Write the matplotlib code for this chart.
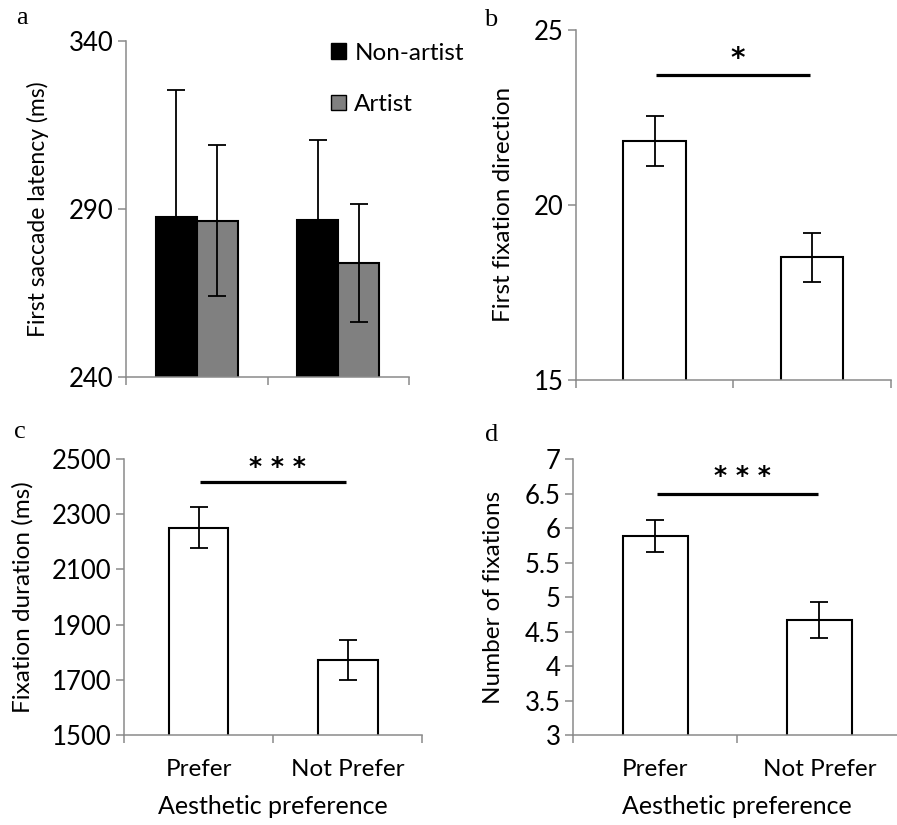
import matplotlib
matplotlib.use("Agg")
import matplotlib.pyplot as plt
from matplotlib.patches import Patch
import numpy as np

plt.rcParams['font.family'] = ['Lato', 'DejaVu Sans']

W, H = 897, 825

# panel a: first saccade latency by group
groups = ['Non-artist', 'Artist']
latency_mean = {'Non-artist': [287.7, 286.6], 'Artist': [286.5, 273.9]}
latency_err = {'Non-artist': [37.6, 23.8], 'Artist': [22.5, 17.5]}

# panels b-d: prefer vs not prefer
categories = ['Prefer', 'Not Prefer']
direction_mean = [21.82, 18.50]
direction_err = [0.72, 0.70]
duration_mean = [2251, 1772]
duration_err = [75, 72]
count_mean = [5.89, 4.67]
count_err = [0.235, 0.26]

SPINE = '#8a8a8a'
TICK_FS = 18.5
CAT_FS = 17.5
LABEL_FS = 17.5


def make_axes(left, top, right, bottom):
    ax = fig.add_axes([left / W, 1 - bottom / H, (right - left) / W, (bottom - top) / H])
    for s in ['top', 'right']:
        ax.spines[s].set_visible(False)
    for s in ['left', 'bottom']:
        ax.spines[s].set_color(SPINE)
        ax.spines[s].set_linewidth(1.1)
    ax.set_xlim(0, 2)
    ax.set_xticks([0, 1, 2])
    ax.set_xticklabels([])
    ax.tick_params(axis='both', which='major', direction='out', length=6,
                   width=1.1, color=SPINE, labelsize=TICK_FS)
    ax.tick_params(axis='y', pad=3)
    return ax


def category_labels(ax):
    ax.set_xticks([0.5, 1.5], minor=True)
    ax.set_xticklabels(categories, minor=True, fontsize=CAT_FS)
    ax.tick_params(axis='x', which='minor', length=0, pad=17)
    ax.set_xlabel('Aesthetic preference', fontsize=18, labelpad=11)


def simple_bars(ax, means, errs):
    x = np.array([0.5, 1.5])
    ax.bar(x, means, width=0.4, color='white', edgecolor='black', linewidth=1.5, zorder=2)
    ax.errorbar(x, means, yerr=errs, fmt='none', ecolor='black', elinewidth=1.3,
                capsize=6.5, capthick=1.3, zorder=3)


def significance(ax, y, text, text_y, size):
    ax.plot([0.51, 1.49], [y, y], color='black', lw=2.3, solid_capstyle='butt', zorder=3)
    ax.text(1.03, text_y, text, ha='center', va='center', fontsize=size,
            family='DejaVu Sans', fontweight='bold')


fig = plt.figure(figsize=(W / 100, H / 100), dpi=100)

# a
ax = make_axes(126, 41, 409, 377)
x = np.array([0.5, 1.5])
bw = 0.29
ax.bar(x - bw / 2, latency_mean['Non-artist'], width=bw, color='black',
       edgecolor='black', linewidth=1.5, zorder=2)
ax.bar(x + bw / 2, latency_mean['Artist'], width=bw, color='#808080',
       edgecolor='black', linewidth=1.5, zorder=2)
ax.errorbar(x - bw / 2, latency_mean['Non-artist'], yerr=latency_err['Non-artist'],
            fmt='none', ecolor='black', elinewidth=1.3, capsize=6.5, capthick=1.3, zorder=3)
ax.errorbar(x + bw / 2, latency_mean['Artist'], yerr=latency_err['Artist'],
            fmt='none', ecolor='black', elinewidth=1.3, capsize=6.5, capthick=1.3, zorder=3)
ax.set_ylim(240, 340)
ax.set_yticks([240, 290, 340])
ax.set_ylabel('First saccade latency (ms)', fontsize=16.5)
ax.yaxis.set_label_coords(-0.272, 0.5)
handles = [Patch(facecolor='black', edgecolor='black', label='Non-artist'),
           Patch(facecolor='#808080', edgecolor='black', label='Artist')]
ax.legend(handles=handles, loc='upper left', bbox_to_anchor=(0.725, 0.995), frameon=False,
          fontsize=17.5, handlelength=0.6, handleheight=0.6, handletextpad=0.35,
          labelspacing=1.25, borderpad=0, borderaxespad=0)
fig.text(22 / W, 1 - 18 / H, 'a', ha='center', va='center', fontsize=19,
         family='Liberation Serif')

# b
ax = make_axes(576, 29.7, 890.7, 380)
simple_bars(ax, direction_mean, direction_err)
ax.set_ylim(15, 25)
ax.set_yticks([15, 20, 25])
ax.set_ylabel('First fixation direction', fontsize=LABEL_FS)
ax.yaxis.set_label_coords(-0.198, 0.5)
significance(ax, 23.7, '*', 24.15, 20)
fig.text(491 / W, 1 - 20 / H, 'b', ha='center', va='center', fontsize=19,
         family='Liberation Serif')

# c
ax = make_axes(124, 459, 422.3, 735)
simple_bars(ax, duration_mean, duration_err)
ax.set_ylim(1500, 2500)
ax.set_yticks(np.arange(1500, 2501, 200))
ax.set_ylabel('Fixation duration (ms)', fontsize=LABEL_FS)
ax.yaxis.set_label_coords(-0.302, 0.5)
category_labels(ax)
significance(ax, 2417, '* * *', 2472, 18)
fig.text(20 / W, 1 - 432 / H, 'c', ha='center', va='center', fontsize=19,
         family='Liberation Serif')

# d
ax = make_axes(573.3, 459.3, 901.3, 735.3)
simple_bars(ax, count_mean, count_err)
ax.set_ylim(3, 7)
ax.set_yticks(np.arange(3, 7.01, 0.5))
ax.set_yticklabels(['3', '3.5', '4', '4.5', '5', '5.5', '6', '6.5', '7'])
ax.set_ylabel('Number of fixations', fontsize=LABEL_FS)
ax.yaxis.set_label_coords(-0.212, 0.5)
category_labels(ax)
significance(ax, 6.5, '* * *', 6.76, 18)
fig.text(492 / W, 1 - 435 / H, 'd', ha='center', va='center', fontsize=19,
         family='Liberation Serif')

fig.savefig('out.png', dpi=100)
